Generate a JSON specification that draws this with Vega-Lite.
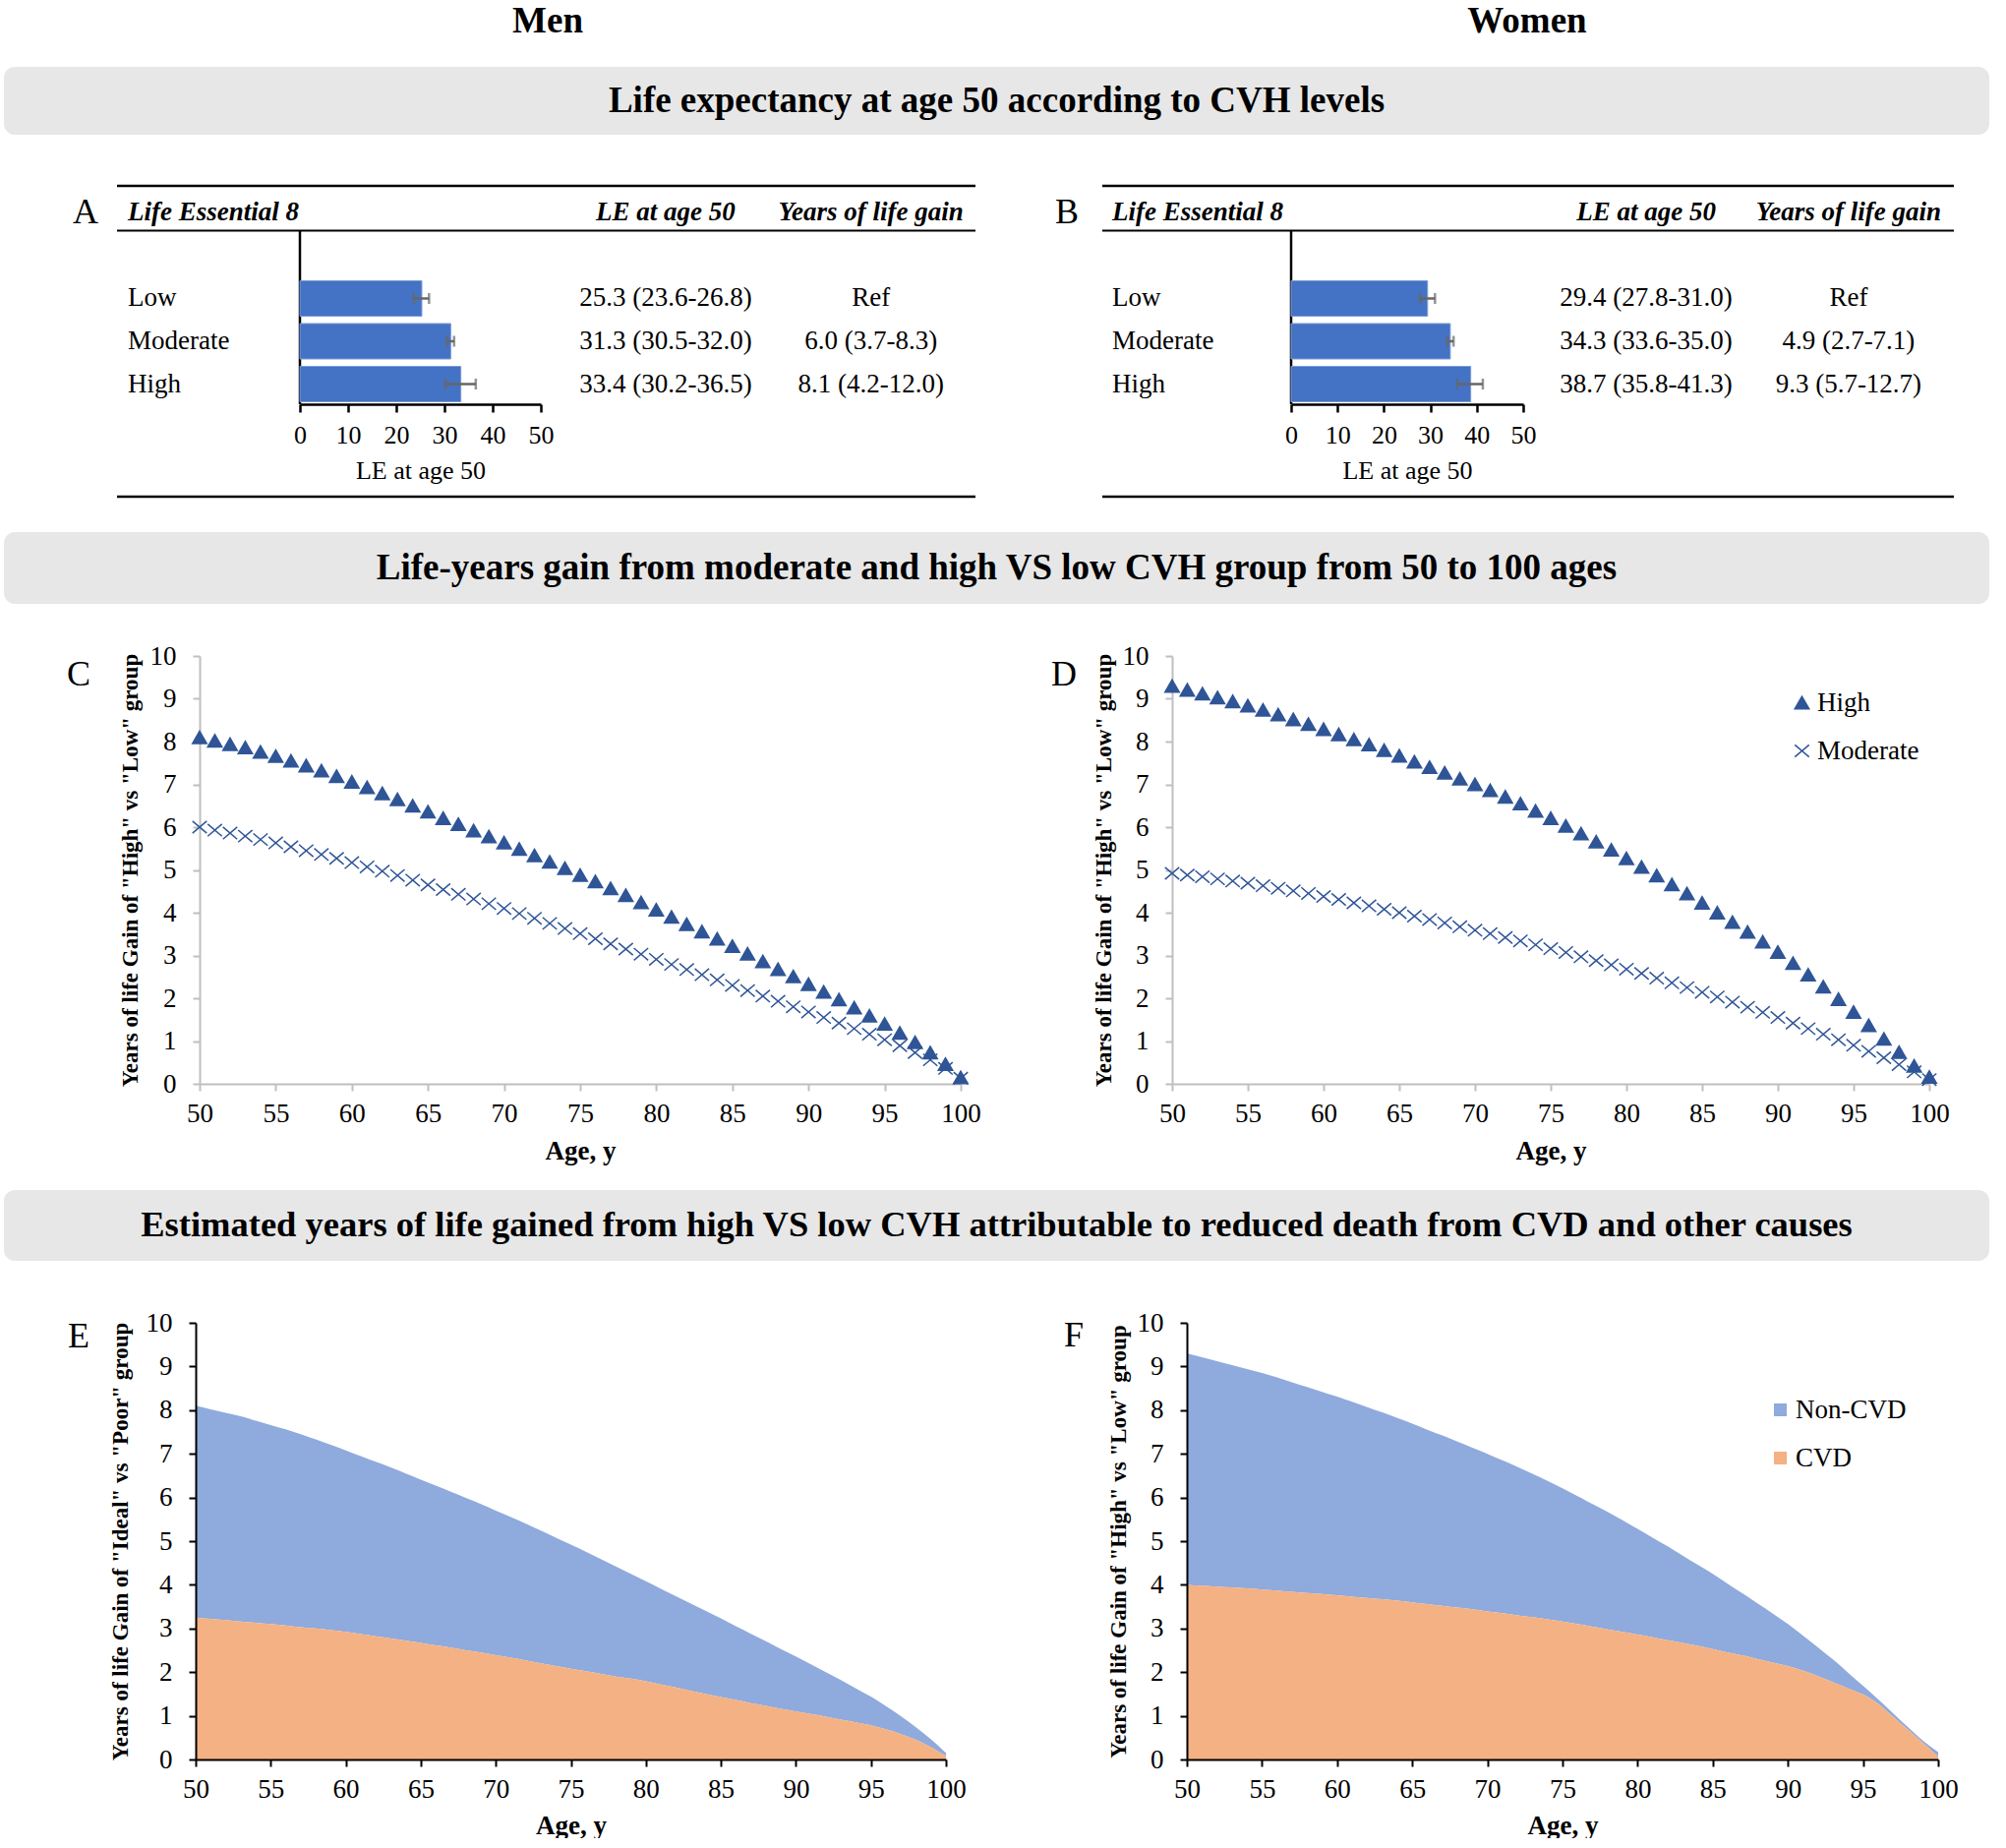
{
"$schema":"https://vega.github.io/schema/vega-lite/v6.json",
"background":"white",
"padding":{"left":4,"top":0,"right":0,"bottom":0},
"spacing":0,
"config":{"font":"Liberation Serif","view":{"stroke":null},
 "axis":{"labelFont":"Liberation Serif","titleFont":"Liberation Serif","labelColor":"black","titleColor":"black","grid":false},
 "text":{"font":"Liberation Serif","color":"black"},
 "legend":{"labelFont":"Liberation Serif","labelColor":"black"}},
"vconcat":[
 {"hconcat":[
  {"width":1106,"height":44,"data":{"values":[{"t":"Men"}]},"mark":{"type":"text","fontSize":37,"fontWeight":"bold"},"encoding":{"text":{"field":"t"}}},
  {"width":886,"height":44,"data":{"values":[{"t":"Women"}]},"mark":{"type":"text","fontSize":37,"fontWeight":"bold"},"encoding":{"text":{"field":"t"}}},
  {"width":1,"height":68,"data":{"values":[{}]},"mark":{"type":"text"},"encoding":{"text":{"value":""}}}
 ],"spacing":0,"bounds":"flush"},
 {"hconcat":[
  {"width":2019,"height":69,"view":{"fill":"#E7E7E7","cornerRadius":11},"data":{"values":[{"t":"Life expectancy at age 50 according to CVH levels"}]},"mark":{"type":"text","fontSize":37,"fontWeight":"bold"},"encoding":{"text":{"field":"t"}}},
  {"width":1,"height":115,"data":{"values":[{}]},"mark":{"type":"text"},"encoding":{"text":{"value":""}}}
 ],"spacing":0,"bounds":"flush"},
 {"hconcat":[
  {"width":115,"height":352,"data":{"values":[{}]},"mark":{"type":"text"},"encoding":{"text":{"value":""}}},
  {"width":873,"height":316,
   "data":{"values":[
    {"level":"Low","le":25.3,"lo":23.6,"hi":26.8,"leText":"25.3 (23.6-26.8)","gainText":"Ref"},
    {"level":"Moderate","le":31.3,"lo":30.5,"hi":32.0,"leText":"31.3 (30.5-32.0)","gainText":"6.0 (3.7-8.3)"},
    {"level":"High","le":33.4,"lo":30.2,"hi":36.5,"leText":"33.4 (30.2-36.5)","gainText":"8.1 (4.2-12.0)"}]},
   "layer":[
    {"data":{"values":[{"r":"top"}]},"mark":{"type":"rule","color":"black","strokeWidth":2.5},"encoding":{"x":{"datum":-37.96,"type":"quantitative","scale":{"domain":[0,50],"range":[186,431],"nice":false,"zero":false}},"x2":{"datum":140.2},"y":{"datum":"hdr","type":"nominal","bandPosition":-0.264,"scale":{"domain":["hdr","gap","Low","Moderate","High","ax1","ax2"],"paddingInner":0.1724,"paddingOuter":0.218},"axis":null}}},
    {"data":{"values":[{"r":"header"}]},"mark":{"type":"rule","color":"black","strokeWidth":2},"encoding":{"x":{"datum":-37.96,"type":"quantitative","scale":{"domain":[0,50],"range":[186,431],"nice":false,"zero":false}},"x2":{"datum":140.2},"y":{"datum":"hdr","type":"nominal","bandPosition":1,"scale":{"domain":["hdr","gap","Low","Moderate","High","ax1","ax2"],"paddingInner":0.1724,"paddingOuter":0.218},"axis":null}}},
    {"data":{"values":[{"r":"bottom"}]},"mark":{"type":"rule","color":"black","strokeWidth":2.5},"encoding":{"x":{"datum":-37.96,"type":"quantitative","scale":{"domain":[0,50],"range":[186,431],"nice":false,"zero":false}},"x2":{"datum":140.2},"y":{"datum":"ax2","type":"nominal","bandPosition":1.264,"scale":{"domain":["hdr","gap","Low","Moderate","High","ax1","ax2"],"paddingInner":0.1724,"paddingOuter":0.218},"axis":null}}},
    {"data":{"values":[{"r":"yaxis"}]},"mark":{"type":"rule","color":"black","strokeWidth":2.5,"yOffset":18,"y2Offset":20.5},"encoding":{"x":{"datum":0,"type":"quantitative","scale":{"domain":[0,50],"range":[186,431],"nice":false,"zero":false}},"y":{"datum":"hdr","type":"nominal","scale":{"domain":["hdr","gap","Low","Moderate","High","ax1","ax2"],"paddingInner":0.1724,"paddingOuter":0.218},"axis":null},"y2":{"datum":"High"}}},
    {"mark":{"type":"bar","color":"#4472C4","stroke":"#7A9CD6","strokeWidth":1},"encoding":{"x":{"field":"le","type":"quantitative","scale":{"domain":[0,50],"range":[186,431],"nice":false,"zero":false},"axis":{"orient":"bottom","offset":-94,"values":[0,10,20,30,40,50],"domainColor":"black","domainWidth":2.5,"tickColor":"black","tickWidth":2.5,"tickSize":8,"labelFontSize":26,"labelPadding":10,"labelFlush":false,"labelOverlap":false,"title":"LE at age 50","titleFontSize":26,"titleFontWeight":"normal","titlePadding":10}},"y":{"field":"level","type":"nominal","scale":{"domain":["hdr","gap","Low","Moderate","High","ax1","ax2"],"paddingInner":0.1724,"paddingOuter":0.218},"axis":null}}},
    {"mark":{"type":"rule","color":"#666666","strokeWidth":2.5},"encoding":{"x":{"field":"lo","type":"quantitative","scale":{"domain":[0,50],"range":[186,431],"nice":false,"zero":false}},"x2":{"field":"hi"},"y":{"field":"level","type":"nominal","scale":{"domain":["hdr","gap","Low","Moderate","High","ax1","ax2"],"paddingInner":0.1724,"paddingOuter":0.218},"axis":null}}},
    {"mark":{"type":"tick","color":"#666666","thickness":2.5,"size":11,"orient":"vertical"},"encoding":{"x":{"field":"lo","type":"quantitative","scale":{"domain":[0,50],"range":[186,431],"nice":false,"zero":false}},"y":{"field":"level","type":"nominal","scale":{"domain":["hdr","gap","Low","Moderate","High","ax1","ax2"],"paddingInner":0.1724,"paddingOuter":0.218},"axis":null}}},
    {"mark":{"type":"tick","color":"#666666","thickness":2.5,"size":11,"orient":"vertical"},"encoding":{"x":{"field":"hi","type":"quantitative","scale":{"domain":[0,50],"range":[186,431],"nice":false,"zero":false}},"y":{"field":"level","type":"nominal","scale":{"domain":["hdr","gap","Low","Moderate","High","ax1","ax2"],"paddingInner":0.1724,"paddingOuter":0.218},"axis":null}}},
    {"mark":{"type":"text","align":"left","fontSize":27},"encoding":{"x":{"datum":-35.7,"type":"quantitative","scale":{"domain":[0,50],"range":[186,431],"nice":false,"zero":false}},"y":{"field":"level","type":"nominal","scale":{"domain":["hdr","gap","Low","Moderate","High","ax1","ax2"],"paddingInner":0.1724,"paddingOuter":0.218},"axis":null},"text":{"field":"level"}}},
    {"mark":{"type":"text","fontSize":27},"encoding":{"x":{"datum":75.9,"type":"quantitative","scale":{"domain":[0,50],"range":[186,431],"nice":false,"zero":false}},"y":{"field":"level","type":"nominal","scale":{"domain":["hdr","gap","Low","Moderate","High","ax1","ax2"],"paddingInner":0.1724,"paddingOuter":0.218},"axis":null},"text":{"field":"leText"}}},
    {"mark":{"type":"text","fontSize":27},"encoding":{"x":{"datum":118.5,"type":"quantitative","scale":{"domain":[0,50],"range":[186,431],"nice":false,"zero":false}},"y":{"field":"level","type":"nominal","scale":{"domain":["hdr","gap","Low","Moderate","High","ax1","ax2"],"paddingInner":0.1724,"paddingOuter":0.218},"axis":null},"text":{"field":"gainText"}}},
    {"data":{"values":[{"h":"Life Essential 8"}]},"mark":{"type":"text","align":"left","fontSize":27,"fontStyle":"italic","fontWeight":"bold"},"encoding":{"x":{"datum":-35.7,"type":"quantitative","scale":{"domain":[0,50],"range":[186,431],"nice":false,"zero":false}},"y":{"datum":"hdr","type":"nominal","scale":{"domain":["hdr","gap","Low","Moderate","High","ax1","ax2"],"paddingInner":0.1724,"paddingOuter":0.218},"axis":null},"text":{"field":"h"}}},
    {"data":{"values":[{"h":"LE at age 50"}]},"mark":{"type":"text","fontSize":27,"fontStyle":"italic","fontWeight":"bold"},"encoding":{"x":{"datum":75.9,"type":"quantitative","scale":{"domain":[0,50],"range":[186,431],"nice":false,"zero":false}},"y":{"datum":"hdr","type":"nominal","scale":{"domain":["hdr","gap","Low","Moderate","High","ax1","ax2"],"paddingInner":0.1724,"paddingOuter":0.218},"axis":null},"text":{"field":"h"}}},
    {"data":{"values":[{"h":"Years of life gain"}]},"mark":{"type":"text","fontSize":27,"fontStyle":"italic","fontWeight":"bold"},"encoding":{"x":{"datum":118.5,"type":"quantitative","scale":{"domain":[0,50],"range":[186,431],"nice":false,"zero":false}},"y":{"datum":"hdr","type":"nominal","scale":{"domain":["hdr","gap","Low","Moderate","High","ax1","ax2"],"paddingInner":0.1724,"paddingOuter":0.218},"axis":null},"text":{"field":"h"}}},
    {"data":{"values":[{"p":"A"}]},"mark":{"type":"text","fontSize":36},"encoding":{"x":{"datum":-44.5,"type":"quantitative","scale":{"domain":[0,50],"range":[186,431],"nice":false,"zero":false}},"y":{"datum":"hdr","type":"nominal","scale":{"domain":["hdr","gap","Low","Moderate","High","ax1","ax2"],"paddingInner":0.1724,"paddingOuter":0.218},"axis":null},"text":{"field":"p"}}}
   ]},
  {"width":129,"height":1,"data":{"values":[{}]},"mark":{"type":"text"},"encoding":{"text":{"value":""}}},
  {"width":866,"height":316,
   "data":{"values":[
    {"level":"Low","le":29.4,"lo":27.8,"hi":31.0,"leText":"29.4 (27.8-31.0)","gainText":"Ref"},
    {"level":"Moderate","le":34.3,"lo":33.6,"hi":35.0,"leText":"34.3 (33.6-35.0)","gainText":"4.9 (2.7-7.1)"},
    {"level":"High","le":38.7,"lo":35.8,"hi":41.3,"leText":"38.7 (35.8-41.3)","gainText":"9.3 (5.7-12.7)"}]},
   "layer":[
    {"data":{"values":[{"r":"top"}]},"mark":{"type":"rule","color":"black","strokeWidth":2.5},"encoding":{"x":{"datum":-40.68,"type":"quantitative","scale":{"domain":[0,50],"range":[192,428],"nice":false,"zero":false}},"x2":{"datum":142.8},"y":{"datum":"hdr","type":"nominal","bandPosition":-0.264,"scale":{"domain":["hdr","gap","Low","Moderate","High","ax1","ax2"],"paddingInner":0.1724,"paddingOuter":0.218},"axis":null}}},
    {"data":{"values":[{"r":"header"}]},"mark":{"type":"rule","color":"black","strokeWidth":2},"encoding":{"x":{"datum":-40.68,"type":"quantitative","scale":{"domain":[0,50],"range":[192,428],"nice":false,"zero":false}},"x2":{"datum":142.8},"y":{"datum":"hdr","type":"nominal","bandPosition":1,"scale":{"domain":["hdr","gap","Low","Moderate","High","ax1","ax2"],"paddingInner":0.1724,"paddingOuter":0.218},"axis":null}}},
    {"data":{"values":[{"r":"bottom"}]},"mark":{"type":"rule","color":"black","strokeWidth":2.5},"encoding":{"x":{"datum":-40.68,"type":"quantitative","scale":{"domain":[0,50],"range":[192,428],"nice":false,"zero":false}},"x2":{"datum":142.8},"y":{"datum":"ax2","type":"nominal","bandPosition":1.264,"scale":{"domain":["hdr","gap","Low","Moderate","High","ax1","ax2"],"paddingInner":0.1724,"paddingOuter":0.218},"axis":null}}},
    {"data":{"values":[{"r":"yaxis"}]},"mark":{"type":"rule","color":"black","strokeWidth":2.5,"yOffset":18,"y2Offset":20.5},"encoding":{"x":{"datum":0,"type":"quantitative","scale":{"domain":[0,50],"range":[192,428],"nice":false,"zero":false}},"y":{"datum":"hdr","type":"nominal","scale":{"domain":["hdr","gap","Low","Moderate","High","ax1","ax2"],"paddingInner":0.1724,"paddingOuter":0.218},"axis":null},"y2":{"datum":"High"}}},
    {"mark":{"type":"bar","color":"#4472C4","stroke":"#7A9CD6","strokeWidth":1},"encoding":{"x":{"field":"le","type":"quantitative","scale":{"domain":[0,50],"range":[192,428],"nice":false,"zero":false},"axis":{"orient":"bottom","offset":-94,"values":[0,10,20,30,40,50],"domainColor":"black","domainWidth":2.5,"tickColor":"black","tickWidth":2.5,"tickSize":8,"labelFontSize":26,"labelPadding":10,"labelFlush":false,"labelOverlap":false,"title":"LE at age 50","titleFontSize":26,"titleFontWeight":"normal","titlePadding":10}},"y":{"field":"level","type":"nominal","scale":{"domain":["hdr","gap","Low","Moderate","High","ax1","ax2"],"paddingInner":0.1724,"paddingOuter":0.218},"axis":null}}},
    {"mark":{"type":"rule","color":"#666666","strokeWidth":2.5},"encoding":{"x":{"field":"lo","type":"quantitative","scale":{"domain":[0,50],"range":[192,428],"nice":false,"zero":false}},"x2":{"field":"hi"},"y":{"field":"level","type":"nominal","scale":{"domain":["hdr","gap","Low","Moderate","High","ax1","ax2"],"paddingInner":0.1724,"paddingOuter":0.218},"axis":null}}},
    {"mark":{"type":"tick","color":"#666666","thickness":2.5,"size":11,"orient":"vertical"},"encoding":{"x":{"field":"lo","type":"quantitative","scale":{"domain":[0,50],"range":[192,428],"nice":false,"zero":false}},"y":{"field":"level","type":"nominal","scale":{"domain":["hdr","gap","Low","Moderate","High","ax1","ax2"],"paddingInner":0.1724,"paddingOuter":0.218},"axis":null}}},
    {"mark":{"type":"tick","color":"#666666","thickness":2.5,"size":11,"orient":"vertical"},"encoding":{"x":{"field":"hi","type":"quantitative","scale":{"domain":[0,50],"range":[192,428],"nice":false,"zero":false}},"y":{"field":"level","type":"nominal","scale":{"domain":["hdr","gap","Low","Moderate","High","ax1","ax2"],"paddingInner":0.1724,"paddingOuter":0.218},"axis":null}}},
    {"mark":{"type":"text","align":"left","fontSize":27},"encoding":{"x":{"datum":-38.56,"type":"quantitative","scale":{"domain":[0,50],"range":[192,428],"nice":false,"zero":false}},"y":{"field":"level","type":"nominal","scale":{"domain":["hdr","gap","Low","Moderate","High","ax1","ax2"],"paddingInner":0.1724,"paddingOuter":0.218},"axis":null},"text":{"field":"level"}}},
    {"mark":{"type":"text","fontSize":27},"encoding":{"x":{"datum":76.5,"type":"quantitative","scale":{"domain":[0,50],"range":[192,428],"nice":false,"zero":false}},"y":{"field":"level","type":"nominal","scale":{"domain":["hdr","gap","Low","Moderate","High","ax1","ax2"],"paddingInner":0.1724,"paddingOuter":0.218},"axis":null},"text":{"field":"leText"}}},
    {"mark":{"type":"text","fontSize":27},"encoding":{"x":{"datum":120.1,"type":"quantitative","scale":{"domain":[0,50],"range":[192,428],"nice":false,"zero":false}},"y":{"field":"level","type":"nominal","scale":{"domain":["hdr","gap","Low","Moderate","High","ax1","ax2"],"paddingInner":0.1724,"paddingOuter":0.218},"axis":null},"text":{"field":"gainText"}}},
    {"data":{"values":[{"h":"Life Essential 8"}]},"mark":{"type":"text","align":"left","fontSize":27,"fontStyle":"italic","fontWeight":"bold"},"encoding":{"x":{"datum":-38.56,"type":"quantitative","scale":{"domain":[0,50],"range":[192,428],"nice":false,"zero":false}},"y":{"datum":"hdr","type":"nominal","scale":{"domain":["hdr","gap","Low","Moderate","High","ax1","ax2"],"paddingInner":0.1724,"paddingOuter":0.218},"axis":null},"text":{"field":"h"}}},
    {"data":{"values":[{"h":"LE at age 50"}]},"mark":{"type":"text","fontSize":27,"fontStyle":"italic","fontWeight":"bold"},"encoding":{"x":{"datum":76.5,"type":"quantitative","scale":{"domain":[0,50],"range":[192,428],"nice":false,"zero":false}},"y":{"datum":"hdr","type":"nominal","scale":{"domain":["hdr","gap","Low","Moderate","High","ax1","ax2"],"paddingInner":0.1724,"paddingOuter":0.218},"axis":null},"text":{"field":"h"}}},
    {"data":{"values":[{"h":"Years of life gain"}]},"mark":{"type":"text","fontSize":27,"fontStyle":"italic","fontWeight":"bold"},"encoding":{"x":{"datum":120.1,"type":"quantitative","scale":{"domain":[0,50],"range":[192,428],"nice":false,"zero":false}},"y":{"datum":"hdr","type":"nominal","scale":{"domain":["hdr","gap","Low","Moderate","High","ax1","ax2"],"paddingInner":0.1724,"paddingOuter":0.218},"axis":null},"text":{"field":"h"}}},
    {"data":{"values":[{"p":"B"}]},"mark":{"type":"text","fontSize":36},"encoding":{"x":{"datum":-48.3,"type":"quantitative","scale":{"domain":[0,50],"range":[192,428],"nice":false,"zero":false}},"y":{"datum":"hdr","type":"nominal","scale":{"domain":["hdr","gap","Low","Moderate","High","ax1","ax2"],"paddingInner":0.1724,"paddingOuter":0.218},"axis":null},"text":{"field":"p"}}}
   ]}
 ],"spacing":0,"bounds":"flush"},
 {"hconcat":[
  {"width":2019,"height":73,"view":{"fill":"#E7E7E7","cornerRadius":11},"data":{"values":[{"t":"Life-years gain from moderate and high VS low CVH group from 50 to 100 ages"}]},"mark":{"type":"text","fontSize":37,"fontWeight":"bold"},"encoding":{"text":{"field":"t"}}},
  {"width":1,"height":112,"data":{"values":[{}]},"mark":{"type":"text"},"encoding":{"text":{"value":""}}}
 ],"spacing":0,"bounds":"flush"},
 {"hconcat":[
  {"width":199,"height":543,"data":{"values":[{}]},"mark":{"type":"text"},"encoding":{"text":{"value":""}}},
  {"width":774,"height":435,
   "layer":[
    {"data":{"values":[
{"age":50,"s":"High","v":8.10},{"age":51,"s":"High","v":8.02},{"age":52,"s":"High","v":7.94},{"age":53,"s":"High","v":7.86},{"age":54,"s":"High","v":7.76},{"age":55,"s":"High","v":7.66},{"age":56,"s":"High","v":7.55},{"age":57,"s":"High","v":7.44},{"age":58,"s":"High","v":7.32},{"age":59,"s":"High","v":7.19},{"age":60,"s":"High","v":7.06},{"age":61,"s":"High","v":6.93},{"age":62,"s":"High","v":6.79},{"age":63,"s":"High","v":6.65},{"age":64,"s":"High","v":6.50},{"age":65,"s":"High","v":6.36},{"age":66,"s":"High","v":6.21},{"age":67,"s":"High","v":6.07},{"age":68,"s":"High","v":5.92},{"age":69,"s":"High","v":5.78},{"age":70,"s":"High","v":5.64},{"age":71,"s":"High","v":5.49},{"age":72,"s":"High","v":5.34},{"age":73,"s":"High","v":5.19},{"age":74,"s":"High","v":5.04},{"age":75,"s":"High","v":4.88},{"age":76,"s":"High","v":4.73},{"age":77,"s":"High","v":4.57},{"age":78,"s":"High","v":4.41},{"age":79,"s":"High","v":4.24},{"age":80,"s":"High","v":4.07},{"age":81,"s":"High","v":3.90},{"age":82,"s":"High","v":3.73},{"age":83,"s":"High","v":3.56},{"age":84,"s":"High","v":3.39},{"age":85,"s":"High","v":3.22},{"age":86,"s":"High","v":3.04},{"age":87,"s":"High","v":2.86},{"age":88,"s":"High","v":2.68},{"age":89,"s":"High","v":2.51},{"age":90,"s":"High","v":2.33},{"age":91,"s":"High","v":2.15},{"age":92,"s":"High","v":1.97},{"age":93,"s":"High","v":1.78},{"age":94,"s":"High","v":1.59},{"age":95,"s":"High","v":1.40},{"age":96,"s":"High","v":1.19},{"age":97,"s":"High","v":0.97},{"age":98,"s":"High","v":0.73},{"age":99,"s":"High","v":0.46},{"age":100,"s":"High","v":0.15},
{"age":50,"s":"Moderate","v":6.00},{"age":51,"s":"Moderate","v":5.93},{"age":52,"s":"Moderate","v":5.86},{"age":53,"s":"Moderate","v":5.79},{"age":54,"s":"Moderate","v":5.71},{"age":55,"s":"Moderate","v":5.63},{"age":56,"s":"Moderate","v":5.54},{"age":57,"s":"Moderate","v":5.45},{"age":58,"s":"Moderate","v":5.36},{"age":59,"s":"Moderate","v":5.27},{"age":60,"s":"Moderate","v":5.17},{"age":61,"s":"Moderate","v":5.07},{"age":62,"s":"Moderate","v":4.97},{"age":63,"s":"Moderate","v":4.87},{"age":64,"s":"Moderate","v":4.76},{"age":65,"s":"Moderate","v":4.65},{"age":66,"s":"Moderate","v":4.54},{"age":67,"s":"Moderate","v":4.43},{"age":68,"s":"Moderate","v":4.32},{"age":69,"s":"Moderate","v":4.21},{"age":70,"s":"Moderate","v":4.10},{"age":71,"s":"Moderate","v":3.98},{"age":72,"s":"Moderate","v":3.87},{"age":73,"s":"Moderate","v":3.75},{"age":74,"s":"Moderate","v":3.63},{"age":75,"s":"Moderate","v":3.51},{"age":76,"s":"Moderate","v":3.39},{"age":77,"s":"Moderate","v":3.27},{"age":78,"s":"Moderate","v":3.15},{"age":79,"s":"Moderate","v":3.03},{"age":80,"s":"Moderate","v":2.91},{"age":81,"s":"Moderate","v":2.79},{"age":82,"s":"Moderate","v":2.67},{"age":83,"s":"Moderate","v":2.55},{"age":84,"s":"Moderate","v":2.43},{"age":85,"s":"Moderate","v":2.30},{"age":86,"s":"Moderate","v":2.18},{"age":87,"s":"Moderate","v":2.05},{"age":88,"s":"Moderate","v":1.93},{"age":89,"s":"Moderate","v":1.80},{"age":90,"s":"Moderate","v":1.68},{"age":91,"s":"Moderate","v":1.55},{"age":92,"s":"Moderate","v":1.42},{"age":93,"s":"Moderate","v":1.29},{"age":94,"s":"Moderate","v":1.16},{"age":95,"s":"Moderate","v":1.03},{"age":96,"s":"Moderate","v":0.89},{"age":97,"s":"Moderate","v":0.73},{"age":98,"s":"Moderate","v":0.56},{"age":99,"s":"Moderate","v":0.36},{"age":100,"s":"Moderate","v":0.13}
    ]},
     "mark":{"type":"point","strokeWidth":1.5,"opacity":1,"size":210},
     "encoding":{
      "x":{"field":"age","type":"quantitative","scale":{"domain":[50,100],"nice":false,"zero":false},"axis":{"values":[50,55,60,65,70,75,80,85,90,95,100],"title":"Age, y","titleFontSize":27,"titleFontWeight":"bold","titlePadding":12,"labelFontSize":27,"labelPadding":10,"labelFlush":false,"labelOverlap":false,"domainColor":"#BFBFBF","domainWidth":2,"tickColor":"#BFBFBF","tickWidth":2,"tickSize":7}},
      "y":{"field":"v","type":"quantitative","scale":{"domain":[0,10],"nice":false},"axis":{"values":[0,1,2,3,4,5,6,7,8,9,10],"title":"Years of life Gain of \"High\" vs \"Low\" group","titleFontSize":23,"titleFontWeight":"bold","titlePadding":8,"labelFontSize":27,"labelPadding":17,"labelOverlap":false,"domainColor":"#BFBFBF","domainWidth":2,"tickColor":"#BFBFBF","tickWidth":2,"tickSize":7}},
      "shape":{"field":"s","type":"nominal","scale":{"domain":["High","Moderate"],"range":["triangle-up","M-1,-0.85L1,0.85M-1,0.85L1,-0.85"]},"legend":null},
      "fill":{"field":"s","type":"nominal","scale":{"domain":["High","Moderate"],"range":["#2F5597","transparent"]},"legend":null},
      "stroke":{"field":"s","type":"nominal","scale":{"domain":["High","Moderate"],"range":["#2F5597","#2F5597"]},"legend":null}
     }},
    {"data":{"values":[{"p":"C"}]},"mark":{"type":"text","fontSize":36},"encoding":{"x":{"datum":42.05,"type":"quantitative","scale":{"domain":[50,100],"nice":false,"zero":false}},"y":{"datum":9.563,"type":"quantitative","scale":{"domain":[0,10],"nice":false}},"text":{"field":"p"}}}
   ]},
  {"width":215,"height":1,"data":{"values":[{}]},"mark":{"type":"text"},"encoding":{"text":{"value":""}}},
  {"width":770,"height":435,
   "layer":[
    {"data":{"values":[
{"age":50,"s":"High","v":9.30},{"age":51,"s":"High","v":9.21},{"age":52,"s":"High","v":9.12},{"age":53,"s":"High","v":9.03},{"age":54,"s":"High","v":8.94},{"age":55,"s":"High","v":8.84},{"age":56,"s":"High","v":8.74},{"age":57,"s":"High","v":8.63},{"age":58,"s":"High","v":8.52},{"age":59,"s":"High","v":8.41},{"age":60,"s":"High","v":8.29},{"age":61,"s":"High","v":8.17},{"age":62,"s":"High","v":8.05},{"age":63,"s":"High","v":7.93},{"age":64,"s":"High","v":7.80},{"age":65,"s":"High","v":7.67},{"age":66,"s":"High","v":7.53},{"age":67,"s":"High","v":7.40},{"age":68,"s":"High","v":7.27},{"age":69,"s":"High","v":7.13},{"age":70,"s":"High","v":7.00},{"age":71,"s":"High","v":6.86},{"age":72,"s":"High","v":6.71},{"age":73,"s":"High","v":6.55},{"age":74,"s":"High","v":6.38},{"age":75,"s":"High","v":6.21},{"age":76,"s":"High","v":6.03},{"age":77,"s":"High","v":5.85},{"age":78,"s":"High","v":5.66},{"age":79,"s":"High","v":5.47},{"age":80,"s":"High","v":5.27},{"age":81,"s":"High","v":5.07},{"age":82,"s":"High","v":4.87},{"age":83,"s":"High","v":4.66},{"age":84,"s":"High","v":4.45},{"age":85,"s":"High","v":4.23},{"age":86,"s":"High","v":4.00},{"age":87,"s":"High","v":3.78},{"age":88,"s":"High","v":3.55},{"age":89,"s":"High","v":3.32},{"age":90,"s":"High","v":3.08},{"age":91,"s":"High","v":2.82},{"age":92,"s":"High","v":2.55},{"age":93,"s":"High","v":2.27},{"age":94,"s":"High","v":1.98},{"age":95,"s":"High","v":1.68},{"age":96,"s":"High","v":1.37},{"age":97,"s":"High","v":1.05},{"age":98,"s":"High","v":0.74},{"age":99,"s":"High","v":0.42},{"age":100,"s":"High","v":0.16},
{"age":50,"s":"Moderate","v":4.92},{"age":51,"s":"Moderate","v":4.88},{"age":52,"s":"Moderate","v":4.84},{"age":53,"s":"Moderate","v":4.79},{"age":54,"s":"Moderate","v":4.74},{"age":55,"s":"Moderate","v":4.69},{"age":56,"s":"Moderate","v":4.63},{"age":57,"s":"Moderate","v":4.57},{"age":58,"s":"Moderate","v":4.51},{"age":59,"s":"Moderate","v":4.45},{"age":60,"s":"Moderate","v":4.38},{"age":61,"s":"Moderate","v":4.31},{"age":62,"s":"Moderate","v":4.23},{"age":63,"s":"Moderate","v":4.16},{"age":64,"s":"Moderate","v":4.08},{"age":65,"s":"Moderate","v":4.00},{"age":66,"s":"Moderate","v":3.92},{"age":67,"s":"Moderate","v":3.84},{"age":68,"s":"Moderate","v":3.76},{"age":69,"s":"Moderate","v":3.67},{"age":70,"s":"Moderate","v":3.59},{"age":71,"s":"Moderate","v":3.51},{"age":72,"s":"Moderate","v":3.42},{"age":73,"s":"Moderate","v":3.34},{"age":74,"s":"Moderate","v":3.25},{"age":75,"s":"Moderate","v":3.16},{"age":76,"s":"Moderate","v":3.07},{"age":77,"s":"Moderate","v":2.97},{"age":78,"s":"Moderate","v":2.88},{"age":79,"s":"Moderate","v":2.78},{"age":80,"s":"Moderate","v":2.68},{"age":81,"s":"Moderate","v":2.58},{"age":82,"s":"Moderate","v":2.47},{"age":83,"s":"Moderate","v":2.36},{"age":84,"s":"Moderate","v":2.25},{"age":85,"s":"Moderate","v":2.14},{"age":86,"s":"Moderate","v":2.03},{"age":87,"s":"Moderate","v":1.91},{"age":88,"s":"Moderate","v":1.79},{"age":89,"s":"Moderate","v":1.67},{"age":90,"s":"Moderate","v":1.55},{"age":91,"s":"Moderate","v":1.42},{"age":92,"s":"Moderate","v":1.29},{"age":93,"s":"Moderate","v":1.16},{"age":94,"s":"Moderate","v":1.03},{"age":95,"s":"Moderate","v":0.90},{"age":96,"s":"Moderate","v":0.76},{"age":97,"s":"Moderate","v":0.61},{"age":98,"s":"Moderate","v":0.45},{"age":99,"s":"Moderate","v":0.28},{"age":100,"s":"Moderate","v":0.10}
    ]},
     "mark":{"type":"point","strokeWidth":1.5,"opacity":1,"size":210},
     "encoding":{
      "x":{"field":"age","type":"quantitative","scale":{"domain":[50,100],"nice":false,"zero":false},"axis":{"values":[50,55,60,65,70,75,80,85,90,95,100],"title":"Age, y","titleFontSize":27,"titleFontWeight":"bold","titlePadding":12,"labelFontSize":27,"labelPadding":10,"labelFlush":false,"labelOverlap":false,"domainColor":"#BFBFBF","domainWidth":2,"tickColor":"#BFBFBF","tickWidth":2,"tickSize":7}},
      "y":{"field":"v","type":"quantitative","scale":{"domain":[0,10],"nice":false},"axis":{"values":[0,1,2,3,4,5,6,7,8,9,10],"title":"Years of life Gain of \"High\" vs \"Low\" group","titleFontSize":23,"titleFontWeight":"bold","titlePadding":7,"labelFontSize":27,"labelPadding":17,"labelOverlap":false,"domainColor":"#BFBFBF","domainWidth":2,"tickColor":"#BFBFBF","tickWidth":2,"tickSize":7}},
      "shape":{"field":"s","type":"nominal","scale":{"domain":["High","Moderate"],"range":["triangle-up","M-1,-0.85L1,0.85M-1,0.85L1,-0.85"]},"legend":{"title":null,"orient":"none","legendX":627,"legendY":34,"labelFontSize":27,"symbolSize":210,"symbolStrokeWidth":1.5,"rowPadding":21,"labelOffset":2,"padding":0}},
      "fill":{"field":"s","type":"nominal","scale":{"domain":["High","Moderate"],"range":["#2F5597","transparent"]},"legend":{"title":null,"orient":"none","legendX":627,"legendY":34,"labelFontSize":27,"symbolSize":210,"symbolStrokeWidth":1.5,"rowPadding":21,"labelOffset":2,"padding":0}},
      "stroke":{"field":"s","type":"nominal","scale":{"domain":["High","Moderate"],"range":["#2F5597","#2F5597"]},"legend":{"title":null,"orient":"none","legendX":627,"legendY":34,"labelFontSize":27,"symbolSize":210,"symbolStrokeWidth":1.5,"rowPadding":21,"labelOffset":2,"padding":0}}
     }},
    {"data":{"values":[{"p":"D"}]},"mark":{"type":"text","fontSize":36},"encoding":{"x":{"datum":42.86,"type":"quantitative","scale":{"domain":[50,100],"nice":false,"zero":false}},"y":{"datum":9.563,"type":"quantitative","scale":{"domain":[0,10],"nice":false}},"text":{"field":"p"}}}
   ]}
 ],"spacing":0,"bounds":"flush","resolve":{"scale":{"shape":"independent","fill":"independent","stroke":"independent"},"legend":{"shape":"independent","fill":"independent","stroke":"independent"}}},
 {"hconcat":[
  {"width":2019,"height":72,"view":{"fill":"#E7E7E7","cornerRadius":11},"data":{"values":[{"t":"Estimated years of life gained from high VS low CVH attributable to reduced death from CVD and other causes"}]},"mark":{"type":"text","fontSize":36.5,"fontWeight":"bold"},"encoding":{"text":{"field":"t"}}},
  {"width":1,"height":121,"data":{"values":[{}]},"mark":{"type":"text"},"encoding":{"text":{"value":""}}}
 ],"spacing":0,"bounds":"flush"},
 {"hconcat":[
  {"width":195,"height":1,"data":{"values":[{}]},"mark":{"type":"text"},"encoding":{"text":{"value":""}}},
  {"width":763,"height":444,
   "data":{"values":[
{"age":50,"total":8.10,"cvd":3.25},{"age":51,"total":8.02,"cvd":3.22},{"age":52,"total":7.94,"cvd":3.19},{"age":53,"total":7.86,"cvd":3.16},{"age":54,"total":7.76,"cvd":3.13},{"age":55,"total":7.66,"cvd":3.10},{"age":56,"total":7.56,"cvd":3.07},{"age":57,"total":7.45,"cvd":3.03},{"age":58,"total":7.33,"cvd":3.00},{"age":59,"total":7.21,"cvd":2.96},{"age":60,"total":7.08,"cvd":2.92},{"age":61,"total":6.95,"cvd":2.87},{"age":62,"total":6.82,"cvd":2.82},{"age":63,"total":6.69,"cvd":2.77},{"age":64,"total":6.55,"cvd":2.72},{"age":65,"total":6.41,"cvd":2.67},{"age":66,"total":6.27,"cvd":2.61},{"age":67,"total":6.13,"cvd":2.56},{"age":68,"total":5.99,"cvd":2.50},{"age":69,"total":5.85,"cvd":2.45},{"age":70,"total":5.70,"cvd":2.39},{"age":71,"total":5.55,"cvd":2.33},{"age":72,"total":5.40,"cvd":2.27},{"age":73,"total":5.24,"cvd":2.20},{"age":74,"total":5.08,"cvd":2.14},{"age":75,"total":4.92,"cvd":2.08},{"age":76,"total":4.76,"cvd":2.02},{"age":77,"total":4.59,"cvd":1.96},{"age":78,"total":4.42,"cvd":1.90},{"age":79,"total":4.25,"cvd":1.85},{"age":80,"total":4.08,"cvd":1.79},{"age":81,"total":3.91,"cvd":1.72},{"age":82,"total":3.74,"cvd":1.65},{"age":83,"total":3.57,"cvd":1.57},{"age":84,"total":3.40,"cvd":1.50},{"age":85,"total":3.23,"cvd":1.43},{"age":86,"total":3.05,"cvd":1.36},{"age":87,"total":2.88,"cvd":1.29},{"age":88,"total":2.71,"cvd":1.23},{"age":89,"total":2.53,"cvd":1.16},{"age":90,"total":2.36,"cvd":1.10},{"age":91,"total":2.18,"cvd":1.04},{"age":92,"total":2.00,"cvd":0.98},{"age":93,"total":1.82,"cvd":0.91},{"age":94,"total":1.63,"cvd":0.85},{"age":95,"total":1.44,"cvd":0.78},{"age":96,"total":1.22,"cvd":0.69},{"age":97,"total":0.99,"cvd":0.58},{"age":98,"total":0.74,"cvd":0.45},{"age":99,"total":0.46,"cvd":0.28},{"age":100,"total":0.15,"cvd":0.08}
   ]},
   "layer":[
    {"mark":{"type":"area","interpolate":"monotone","opacity":1},"encoding":{
      "x":{"field":"age","type":"quantitative","scale":{"domain":[50,100],"nice":false,"zero":false},"axis":{"values":[50,55,60,65,70,75,80,85,90,95,100],"title":"Age, y","titleFontSize":27,"titleFontWeight":"bold","titlePadding":11,"labelFontSize":27,"labelPadding":10,"labelFlush":false,"labelOverlap":false,"domainColor":"black","domainWidth":2,"tickColor":"black","tickWidth":2,"tickSize":7,"zindex":1}},
      "y":{"field":"total","type":"quantitative","stack":null,"scale":{"domain":[0,10],"nice":false},"axis":{"values":[0,1,2,3,4,5,6,7,8,9,10],"title":"Years of life Gain of \"Ideal\" vs \"Poor\" group","titleFontSize":23,"titleFontWeight":"bold","titlePadding":14,"labelFontSize":27,"labelPadding":17,"labelOverlap":false,"domainColor":"black","domainWidth":2,"tickColor":"black","tickWidth":2,"tickSize":7,"zindex":1}},
      "y2":{"field":"cvd"},
      "color":{"datum":"Non-CVD","type":"nominal","scale":{"domain":["Non-CVD","CVD"],"range":["#8FAADC","#F4B183"]},"legend":null}}},
    {"mark":{"type":"area","interpolate":"monotone","opacity":1},"encoding":{
      "x":{"field":"age","type":"quantitative","scale":{"domain":[50,100],"nice":false,"zero":false}},
      "y":{"field":"cvd","type":"quantitative","stack":null,"scale":{"domain":[0,10],"nice":false}},
      "color":{"datum":"CVD","type":"nominal","scale":{"domain":["Non-CVD","CVD"],"range":["#8FAADC","#F4B183"]},"legend":null}}},
    {"data":{"values":[{"p":"E"}]},"mark":{"type":"text","fontSize":36},"encoding":{"x":{"datum":42.2,"type":"quantitative","scale":{"domain":[50,100],"nice":false,"zero":false}},"y":{"datum":9.68,"type":"quantitative","scale":{"domain":[0,10],"nice":false}},"text":{"field":"p"}}}
   ]},
  {"width":245,"height":1,"data":{"values":[{}]},"mark":{"type":"text"},"encoding":{"text":{"value":""}}},
  {"width":764,"height":444,
   "data":{"values":[
{"age":50,"total":9.30,"cvd":4.00},{"age":51,"total":9.21,"cvd":3.98},{"age":52,"total":9.12,"cvd":3.96},{"age":53,"total":9.03,"cvd":3.94},{"age":54,"total":8.94,"cvd":3.92},{"age":55,"total":8.85,"cvd":3.89},{"age":56,"total":8.75,"cvd":3.87},{"age":57,"total":8.64,"cvd":3.84},{"age":58,"total":8.53,"cvd":3.81},{"age":59,"total":8.42,"cvd":3.79},{"age":60,"total":8.31,"cvd":3.76},{"age":61,"total":8.19,"cvd":3.73},{"age":62,"total":8.07,"cvd":3.70},{"age":63,"total":7.95,"cvd":3.67},{"age":64,"total":7.82,"cvd":3.64},{"age":65,"total":7.69,"cvd":3.60},{"age":66,"total":7.55,"cvd":3.56},{"age":67,"total":7.42,"cvd":3.52},{"age":68,"total":7.28,"cvd":3.48},{"age":69,"total":7.14,"cvd":3.44},{"age":70,"total":7.00,"cvd":3.39},{"age":71,"total":6.85,"cvd":3.35},{"age":72,"total":6.70,"cvd":3.30},{"age":73,"total":6.54,"cvd":3.26},{"age":74,"total":6.38,"cvd":3.21},{"age":75,"total":6.21,"cvd":3.16},{"age":76,"total":6.03,"cvd":3.10},{"age":77,"total":5.85,"cvd":3.04},{"age":78,"total":5.67,"cvd":2.98},{"age":79,"total":5.48,"cvd":2.92},{"age":80,"total":5.28,"cvd":2.86},{"age":81,"total":5.08,"cvd":2.80},{"age":82,"total":4.88,"cvd":2.73},{"age":83,"total":4.67,"cvd":2.67},{"age":84,"total":4.46,"cvd":2.60},{"age":85,"total":4.25,"cvd":2.53},{"age":86,"total":4.02,"cvd":2.45},{"age":87,"total":3.80,"cvd":2.38},{"age":88,"total":3.57,"cvd":2.30},{"age":89,"total":3.34,"cvd":2.22},{"age":90,"total":3.10,"cvd":2.14},{"age":91,"total":2.84,"cvd":2.03},{"age":92,"total":2.57,"cvd":1.91},{"age":93,"total":2.29,"cvd":1.77},{"age":94,"total":1.99,"cvd":1.63},{"age":95,"total":1.69,"cvd":1.49},{"age":96,"total":1.38,"cvd":1.28},{"age":97,"total":1.06,"cvd":0.98},{"age":98,"total":0.74,"cvd":0.68},{"age":99,"total":0.43,"cvd":0.38},{"age":100,"total":0.17,"cvd":0.07}
   ]},
   "layer":[
    {"mark":{"type":"area","interpolate":"monotone","opacity":1},"encoding":{
      "x":{"field":"age","type":"quantitative","scale":{"domain":[50,100],"nice":false,"zero":false},"axis":{"values":[50,55,60,65,70,75,80,85,90,95,100],"title":"Age, y","titleFontSize":27,"titleFontWeight":"bold","titlePadding":11,"labelFontSize":27,"labelPadding":10,"labelFlush":false,"labelOverlap":false,"domainColor":"black","domainWidth":2,"tickColor":"black","tickWidth":2,"tickSize":7,"zindex":1}},
      "y":{"field":"total","type":"quantitative","stack":null,"scale":{"domain":[0,10],"nice":false},"axis":{"values":[0,1,2,3,4,5,6,7,8,9,10],"title":"Years of life Gain of \"High\" vs \"Low\" group","titleFontSize":23,"titleFontWeight":"bold","titlePadding":7,"labelFontSize":27,"labelPadding":17,"labelOverlap":false,"domainColor":"black","domainWidth":2,"tickColor":"black","tickWidth":2,"tickSize":7,"zindex":1}},
      "y2":{"field":"cvd"},
      "color":{"datum":"Non-CVD","type":"nominal","scale":{"domain":["Non-CVD","CVD"],"range":["#8FAADC","#F4B183"]},"legend":{"title":null,"orient":"none","legendX":590,"legendY":75,"labelFontSize":27,"symbolType":"square","symbolSize":169,"symbolStrokeWidth":0,"rowPadding":21,"labelOffset":2,"padding":0}}}},
    {"mark":{"type":"area","interpolate":"monotone","opacity":1},"encoding":{
      "x":{"field":"age","type":"quantitative","scale":{"domain":[50,100],"nice":false,"zero":false}},
      "y":{"field":"cvd","type":"quantitative","stack":null,"scale":{"domain":[0,10],"nice":false}},
      "color":{"datum":"CVD","type":"nominal","scale":{"domain":["Non-CVD","CVD"],"range":["#8FAADC","#F4B183"]},"legend":{"title":null,"orient":"none","legendX":590,"legendY":75,"labelFontSize":27,"symbolType":"square","symbolSize":169,"symbolStrokeWidth":0,"rowPadding":21,"labelOffset":2,"padding":0}}}},
    {"data":{"values":[{"p":"F"}]},"mark":{"type":"text","fontSize":36},"encoding":{"x":{"datum":42.47,"type":"quantitative","scale":{"domain":[50,100],"nice":false,"zero":false}},"y":{"datum":9.71,"type":"quantitative","scale":{"domain":[0,10],"nice":false}},"text":{"field":"p"}}}
   ]}
 ],"spacing":0,"bounds":"flush","resolve":{"scale":{"color":"independent"},"legend":{"color":"independent"}}}
]
}
